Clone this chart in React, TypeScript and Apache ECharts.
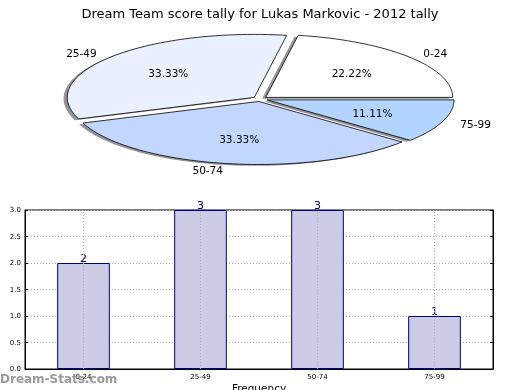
import React, { useEffect, useRef } from "react";
import * as echarts from "echarts";

const categories = ["0-24", "25-49", "50-74", "75-99"];
const counts = [2, 3, 3, 1];
const yTicks = [0, 0.5, 1, 1.5, 2, 2.5, 3];
const pieColors = ["#ffffff", "#eaf0ff", "#c2d6ff", "#b3d4ff"];
const titleText = "Dream Team score tally for Lukas Markovic - 2012 tally";

const FONT = "DejaVu Sans";

export default function App() {
  const ref = useRef<HTMLDivElement>(null);
  useEffect(() => {
    if (!ref.current) return;
    const chart = echarts.init(ref.current, null, { renderer: "svg" });
    const total = counts.reduce((a, b) => a + b, 0);
    const cx = 260, cy = 99, rx = 187, ry = 63, explode = 0.04;

    const renderPie = (params: any, api: any) => {
      const idx = params.dataIndex;
      const v = api.value(0);
      let before = 0;
      for (let i = 0; i < idx; i++) before += counts[i];
      const a0 = (before / total) * 360;
      const a1 = ((before + v) / total) * 360;
      const am = ((a0 + a1) / 2) * Math.PI / 180;
      const ox = explode * rx * Math.cos(am);
      const oy = -explode * ry * Math.sin(am);
      const pts: number[][] = [[cx + ox, cy + oy]];
      const n = Math.max(8, Math.ceil((a1 - a0) / 2));
      for (let k = 0; k <= n; k++) {
        const t = (a0 + ((a1 - a0) * k) / n) * Math.PI / 180;
        pts.push([cx + ox + rx * Math.cos(t), cy + oy - ry * Math.sin(t)]);
      }
      const shadowPts = pts.map((p) => [p[0] - 3.7, p[1] + 1.3]);
      const pct = ((v / total) * 100).toFixed(2) + "%";
      const lx = cx + ox + 1.1 * rx * Math.cos(am);
      const ly = cy + oy - 1.1 * ry * Math.sin(am);
      const px = cx + ox + 0.6 * rx * Math.cos(am);
      const py = cy + oy - 0.6 * ry * Math.sin(am);
      return {
        type: "group",
        children: [
          { type: "polygon", shape: { points: shadowPts }, style: { fill: "rgba(40,40,50,0.5)", stroke: "none" } },
          { type: "polygon", shape: { points: pts }, style: { fill: pieColors[idx], stroke: "#000", lineWidth: 0.8 } },
          {
            type: "text",
            style: {
              text: pct, x: px, y: py, align: "center", verticalAlign: "middle",
              fontFamily: FONT, fontSize: 10.5, fill: "#000",
            },
          },
          {
            type: "text",
            style: {
              text: categories[idx], x: lx, y: ly,
              align: Math.cos(am) >= 0 ? "left" : "right", verticalAlign: "middle",
              fontFamily: FONT, fontSize: 10.5, fill: "#000",
            },
          },
        ],
      };
    };

    chart.setOption({
      animation: false,
      textStyle: { fontFamily: FONT },
      title: {
        text: titleText,
        left: "center",
        top: 2,
        textStyle: { fontFamily: FONT, fontSize: 13, fontWeight: "normal", color: "#000" },
      },
      graphic: [
        {
          type: "text",
          left: 0,
          top: 373,
          style: { text: "Dream-Stats.com", fontFamily: FONT, fontSize: 12, fill: "#9a9a9a", fontWeight: "bold" },
          z: 100,
        },
      ],
      grid: {
        left: 25, top: 210, width: 468, height: 159,
        outerBoundsMode: "none",
        containLabel: false,
        show: true, borderColor: "#000", borderWidth: 1, backgroundColor: "#fff",
      },
      xAxis: {
        type: "category",
        data: categories,
        name: "Frequency",
        nameLocation: "middle",
        nameGap: 13,
        nameTextStyle: { fontFamily: FONT, fontSize: 10.5, color: "#000" },
        axisLine: { show: true, lineStyle: { color: "#000", width: 1 } },
        axisTick: { show: true, alignWithLabel: true, inside: true, length: 3, lineStyle: { color: "#000" } },
        axisLabel: { fontFamily: FONT, fontSize: 7, color: "#000", margin: 4 },
        splitLine: { show: false },
      },
      yAxis: [
        {
          type: "value",
          min: 0,
          max: 3,
          interval: 0.5,
          name: "Stat intervals",
          nameLocation: "middle",
          nameGap: 16,
          nameTextStyle: { fontFamily: FONT, fontSize: 10.5, color: "#000" },
          axisLine: { show: true, lineStyle: { color: "#000", width: 1 } },
          axisTick: { show: true, inside: true, length: 3, lineStyle: { color: "#000" } },
          axisLabel: {
            fontFamily: FONT, fontSize: 7, color: "#000", margin: 4,
            formatter: (v: number) => (yTicks.includes(v) ? v.toFixed(1) : ""),
          },
          splitLine: { show: true, lineStyle: { color: "#b0b0b0", type: [1, 2], width: 1 } },
        },
        {
          type: "value",
          min: 0,
          max: 3,
          interval: 0.5,
          position: "right",
          axisLine: { show: true, lineStyle: { color: "#000", width: 1 } },
          axisTick: { show: true, inside: true, length: 3, lineStyle: { color: "#000" } },
          axisLabel: { show: false },
          splitLine: { show: false },
        },
      ],
      series: [
        {
          type: "bar",
          data: counts,
          barWidth: "45%",
          itemStyle: { color: "#ccccE6", borderColor: "#000080", borderWidth: 1 },
          label: {
            show: true, position: "top", distance: -1,
            fontFamily: FONT, fontSize: 11, color: "#000080",
          },
          markLine: {
            silent: true,
            symbol: "none",
            label: { show: false },
            lineStyle: { color: "#b0b0b0", type: [1, 2], width: 1 },
            data: categories.map((c) => ({ xAxis: c })),
            z: 3,
          },
        },
        {
          type: "custom",
          coordinateSystem: "none",
          data: counts,
          renderItem: renderPie,
          silent: true,
        },
      ],
    });
    return () => chart.dispose();
  }, []);
  return <div ref={ref} style={{ position: "fixed", left: 0, top: 0, width: 520, height: 390 }} />;
}
